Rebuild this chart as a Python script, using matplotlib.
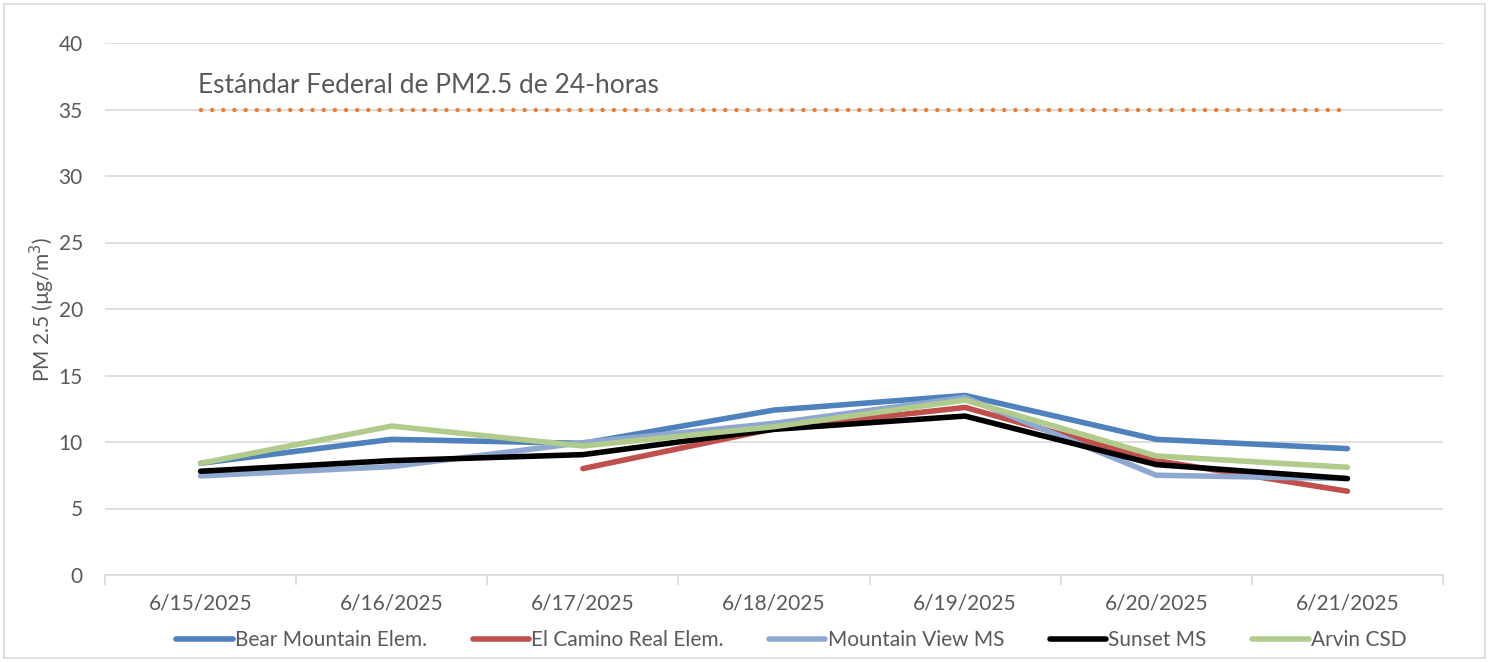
import matplotlib.pyplot as plt
import numpy as np

plt.rcParams['font.family'] = ['Lato', 'DejaVu Sans']

# datos
fechas = ['6/15/2025', '6/16/2025', '6/17/2025', '6/18/2025',
          '6/19/2025', '6/20/2025', '6/21/2025']
bear_mountain = [8.4, 10.2, 9.9, 12.4, 13.5, 10.2, 9.5]
el_camino = [np.nan, np.nan, 8.0, 11.0, 12.6, 8.6, 6.3]
mountain_view = [7.45, 8.15, 9.95, 11.4, 13.35, 7.5, 7.25]
sunset = [7.8, 8.6, 9.05, 10.95, 11.95, 8.3, 7.25]
arvin = [8.4, 11.2, 9.7, 11.15, 13.15, 8.95, 8.1]
estandar = [35] * 7

series = [
    ('Bear Mountain Elem.', bear_mountain, '#4F81BD'),
    ('El Camino Real Elem.', el_camino, '#C0504D'),
    ('Mountain View MS', mountain_view, '#8EA8D2'),
    ('Sunset MS', sunset, '#000000'),
    ('Arvin CSD', arvin, '#B1CB8D'),
]

gris = '#595959'

fig = plt.figure(figsize=(14.89, 6.62), dpi=100)
ax = fig.add_axes([105 / 1489, 1 - 575 / 662, 1338 / 1489, 532 / 662])

x = np.arange(len(fechas))

# línea del estándar federal
ax.plot(x, estandar, color='#ED7D31', lw=3.2, linestyle=(0, (0.01, 2.5)),
        dash_capstyle='round', zorder=2)
ax.text(x[0] - 0.015, 35.9, 'Estándar Federal de PM2.5 de 24-horas',
        fontsize=19, color=gris, va='bottom', ha='left')

for nombre, valores, color in series:
    ax.plot(x, valores, color=color, lw=4, label=nombre,
            solid_capstyle='round', solid_joinstyle='round', zorder=3)

ax.set_xlim(-0.5, len(fechas) - 0.5)
ax.set_ylim(0, 40)
ax.set_yticks(range(0, 41, 5))
ax.set_xticks(x)
ax.set_xticklabels(fechas)
ax.set_xticks(np.arange(-0.5, len(fechas), 1), minor=True)

ax.grid(axis='y', color='#D9D9D9', lw=1.2, zorder=0)
for lado in ['top', 'right', 'left']:
    ax.spines[lado].set_visible(False)
ax.spines['bottom'].set_color('#D9D9D9')
ax.spines['bottom'].set_linewidth(1.2)

ax.tick_params(axis='y', length=0, labelsize=15, labelcolor=gris, pad=16)
ax.tick_params(axis='x', which='major', length=0, labelsize=15,
               labelcolor=gris, pad=13)
ax.tick_params(axis='x', which='minor', length=7, color='#D9D9D9', width=1.2)

ax.set_ylabel('PM 2.5 (µg/m$^3$)', fontsize=15, color=gris, labelpad=1)

ax.legend(loc='upper center', bbox_to_anchor=(0.513, -0.068), ncol=5,
          frameon=False, fontsize=15, labelcolor=gris, handlelength=2.7,
          handletextpad=0.1, columnspacing=2.2)

# marco del gráfico
borde = plt.Rectangle((0.003, 0.006), 0.994, 0.988, transform=fig.transFigure,
                      fill=False, edgecolor='#D9D9D9', lw=1.2)
fig.patches.append(borde)

fig.savefig('out.png', dpi=100)
